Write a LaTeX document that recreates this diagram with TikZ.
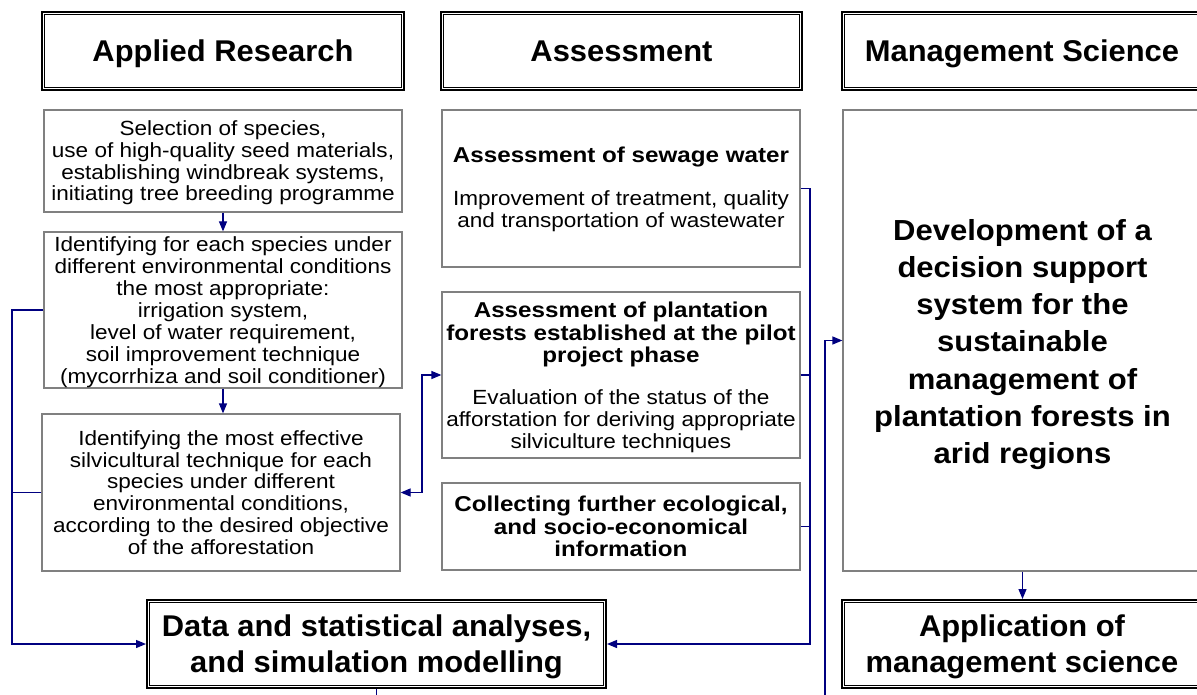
\documentclass[tikz,border=0pt]{standalone}
\usepackage{fontspec}
\setmainfont{Liberation Sans}
\newfontfamily\bodyf[FakeStretch=1.1]{Liberation Sans}
\newfontfamily\subf[FakeStretch=1.125]{Liberation Sans}
\newfontfamily\bigf[FakeStretch=1.03]{Liberation Sans}
\newfontfamily\msf[FakeStretch=1.07]{Liberation Sans}
\usetikzlibrary{arrows.meta}
\definecolor{conncol}{RGB}{0,0,128}
\definecolor{boxgrey}{RGB}{128,128,128}
\begin{document}
\begin{tikzpicture}[x=1pt,y=-1pt,
  box/.style={draw=boxgrey, line width=1.2pt, inner sep=0pt, align=center, fill=white},
  headbox/.style={draw=black, line width=2pt, inner sep=0pt, align=center, fill=white},
  bigtxt/.style={font=\bigf\bfseries\fontsize{30}{36}\selectfont},
  plain/.style={inner sep=0pt, align=center},
  bodytxt/.style={font=\bodyf\fontsize{20.5}{21.7}\selectfont},
  subtxt/.style={font=\subf\bfseries\fontsize{21.5}{22.7}\selectfont},
  mstxt/.style={font=\msf\bfseries\fontsize{29}{37.3}\selectfont},
  conn/.style={draw=conncol, line width=1.2pt},
  arr/.style={conn, -{Triangle[length=10pt,width=8pt]}},
  arrboth/.style={conn, {Triangle[length=10pt,width=8pt]}-{Triangle[length=10pt,width=8pt]}}
]
\useasboundingbox (0,0) rectangle (1197,695);
\clip (0,0) rectangle (1197,695);
\fill[white] (0,0) rectangle (1197,695);

% headers
\node[headbox, bigtxt, text height=22pt, text depth=0pt, minimum width=362pt, minimum height=78pt] (h1) at (223,51) {Applied Research};
\node[headbox, bigtxt, text height=22pt, text depth=0pt, minimum width=361pt, minimum height=78pt] (h2) at (621.5,51) {Assessment};
\node[headbox, bigtxt, text height=22pt, text depth=0pt, minimum width=360pt, minimum height=78pt] (h3) at (1022,51) {Management Science};

% applied research column
\node[box, minimum width=358pt, minimum height=102pt] (ar1) at (223,161) {};
\node[plain, bodytxt] (ar1t) at (223,163)
  {Selection of species,\\use of high-quality seed materials,\\establishing windbreak systems,\\initiating tree breeding programme};
\node[box, minimum width=358pt, minimum height=156pt] (ar2) at (223,310) {};
\node[plain, font=\bodyf\fontsize{20.5}{22}\selectfont] (ar2t) at (223,312)
  {Identifying for each species under\\different environmental conditions\\the most appropriate:\\irrigation system,\\level of water requirement,\\soil improvement technique\\(mycorrhiza and soil conditioner)};
\node[box, bodytxt, minimum width=358pt, minimum height=157pt] (ar3) at (221,492.5)
  {Identifying the most effective\\silvicultural technique for each\\species under different\\environmental conditions,\\according to the desired objective\\of the afforestation};

% assessment column
\node[box, minimum width=358pt, minimum height=157pt] (as1) at (621,188.5) {};
\node[plain, subtxt] (as1t) at (621,157) {Assessment of sewage water};
\node[plain, bodytxt] (as1b) at (621,211) {Improvement of treatment, quality\\and transportation of wastewater};

\node[box, minimum width=358pt, minimum height=166pt] (as2) at (621,375) {};
\node[plain, subtxt] (as2t) at (621,334.5) {Assessment of plantation\\forests established at the pilot\\project phase};
\node[plain, bodytxt] (as2b) at (621,421) {Evaluation of the status of the\\afforstation for deriving appropriate\\silviculture techniques};

\node[box, subtxt, minimum width=358pt, minimum height=87pt] (as3) at (621,526.5)
  {Collecting further ecological,\\and socio-economical\\information};

% management column
\node[box, minimum width=359pt, minimum height=461pt] (ms1) at (1022.5,340.5) {};
\node[plain, mstxt] (ms1t) at (1022.5,344.5)
  {Development of a\\decision support\\system for the\\sustainable\\management of\\plantation forests in\\arid regions};

% bottom boxes
\node[headbox, minimum width=459pt, minimum height=88pt] (data) at (376.5,644) {};
\node[plain, bigtxt] (datat) at (376.5,647) {Data and statistical analyses,\\and simulation modelling};
\node[headbox, minimum width=360pt, minimum height=88pt] (app) at (1022,644) {};
\node[plain, bigtxt] (appt) at (1022,647) {Application of\\management science};

% inner lines of double borders
\foreach \n in {h1,h2,h3,data,app}
  \draw[black, line width=1pt] ([xshift=3.5pt,yshift=-3.5pt]\n.north west) rectangle ([xshift=-3.5pt,yshift=3.5pt]\n.south east);

% helper coordinates
\coordinate (L) at (12,0);
\coordinate (M) at (422,0);
\coordinate (R) at (810,0);
\coordinate (B1) at (825,700);
\coordinate (B2) at (0,700);

% connectors
\draw[arr] (ar1.south) -- (ar1.south |- ar2.north);
\draw[arr] (ar2.south) -- (ar2.south |- ar3.north);
\draw[arr] (ar2.west) -- (ar2.west -| L) |- (data.west);
\draw[conn] (ar3.west) -- (ar3.west -| L);
\draw[arrboth] (ar3.east) -- (ar3.east -| M) |- (as2.west);
\draw[arr] (as1.east) -- (as1.east -| R) |- (data.east);
\draw[conn] (as2.east) -- (as2.east -| R);
\draw[conn] (as3.east) -- (as3.east -| R);
\draw[arr] (B1) |- (ms1.west);
\draw[conn] (data.south) -- (data.south |- B2);
\draw[arr] (ms1.south) -- (ms1.south |- app.north);
\end{tikzpicture}
\end{document}
